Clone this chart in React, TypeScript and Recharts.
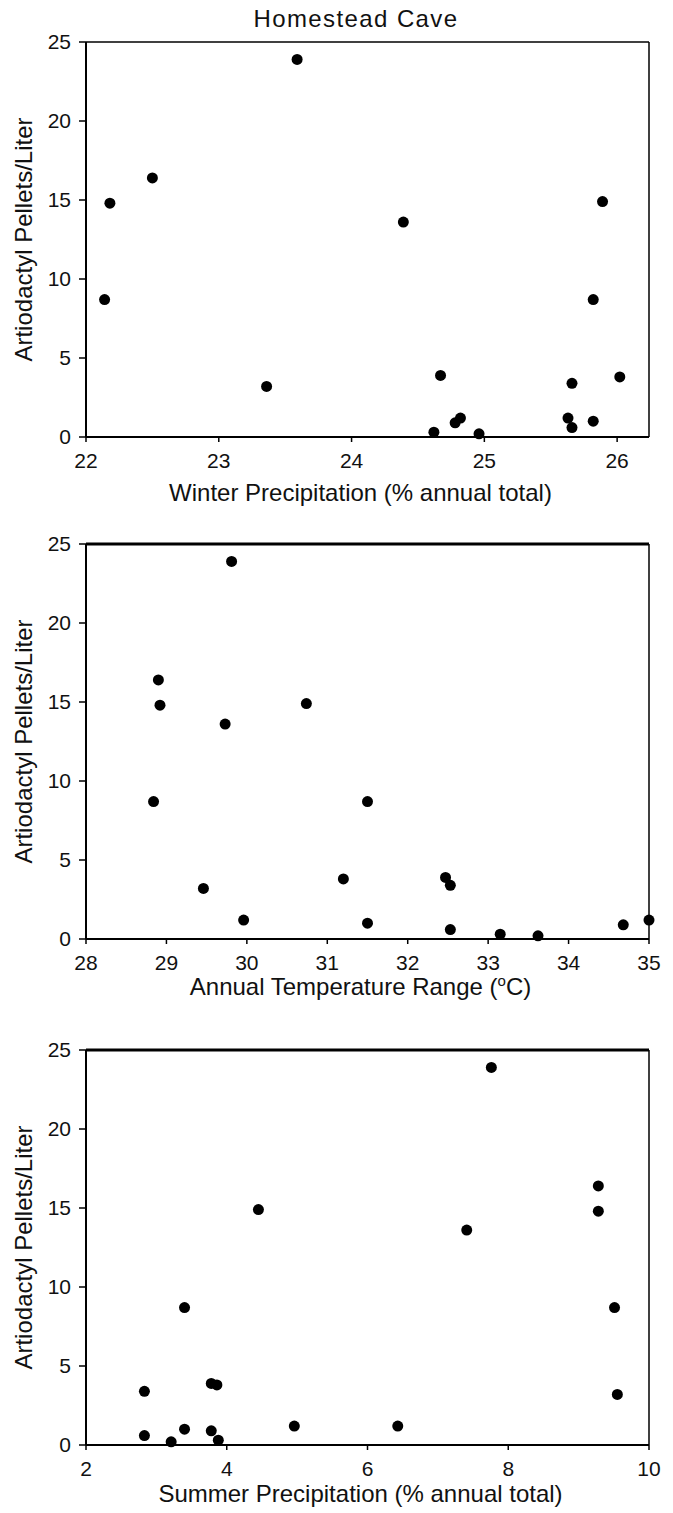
import React from 'react';
import { ScatterChart, Scatter, XAxis, YAxis, ReferenceLine, Label } from 'recharts';

// artiodactyl pellets per liter, one value per sample (same samples in every panel)
const PELLETS = [23.9, 16.4, 14.9, 14.8, 13.6, 8.7, 8.7, 3.9, 3.8, 3.4, 3.2, 1.2, 1.2, 1.0, 0.9, 0.6, 0.3, 0.2];

const WINTER = [23.59, 22.5, 25.89, 22.18, 24.39, 22.14, 25.82, 24.67, 26.02, 25.66, 23.36, 24.82, 25.63, 25.82, 24.78, 25.66, 24.62, 24.96];
const TEMP_RANGE = [29.81, 28.9, 30.74, 28.92, 29.73, 28.84, 31.5, 32.47, 31.2, 32.53, 29.46, 29.96, 35.0, 31.5, 34.68, 32.53, 33.15, 33.62];
const SUMMER = [7.76, 9.28, 4.45, 9.28, 7.41, 9.51, 3.4, 3.78, 3.86, 2.83, 9.55, 4.96, 6.43, 3.4, 3.78, 2.83, 3.88, 3.21];

const Y_TICKS = [0, 5, 10, 15, 20, 25];
const WINTER_TICKS = [22, 23, 24, 25, 26];
const RANGE_TICKS = [28, 29, 30, 31, 32, 33, 34, 35];
const SUMMER_TICKS = [2, 4, 6, 8, 10];

const FONT = '"Liberation Sans", Arial, Helvetica, sans-serif';
const INK = '#111';

const Dot = (props: any) => <circle cx={props.cx} cy={props.cy} r={5.5} fill="#000" />;

interface PanelProps {
  top: number;
  xs: number[];
  domain: [number, number];
  ticks: number[];
  xLabel: React.ReactNode;
  labelGap: number;
  topWidth: number;
}

function Panel({ top, xs, domain, ticks, xLabel, labelGap, topWidth }: PanelProps) {
  const data = PELLETS.map((p, i) => ({ x: xs[i], y: p }));
  return (
    <div style={{ position: 'absolute', left: 0, top }}>
      <ScatterChart width={673} height={507} margin={{ top: 42, right: 24, bottom: 0, left: 0 }}>
        <XAxis
          type="number"
          dataKey="x"
          domain={domain}
          ticks={ticks}
          height={70}
          axisLine={{ stroke: '#000', strokeWidth: 2 }}
          tickLine={{ stroke: '#000', strokeWidth: 1.5 }}
          tickSize={5}
          tickMargin={11}
          tick={{ fontSize: 21, fill: INK, fontFamily: FONT }}
        >
          <Label
            content={(props: any) => {
              const vb = props.viewBox || {};
              return (
                <text
                  x={vb.x + vb.width / 2 - 7}
                  y={vb.y + labelGap}
                  textAnchor="middle"
                  fontSize={24}
                  fill={INK}
                  fontFamily={FONT}
                >
                  {xLabel}
                </text>
              );
            }}
          />
        </XAxis>
        <YAxis
          type="number"
          dataKey="y"
          domain={[0, 25]}
          ticks={Y_TICKS}
          width={86}
          axisLine={{ stroke: '#000', strokeWidth: 2 }}
          tickLine={{ stroke: '#000', strokeWidth: 1.5 }}
          tickSize={7}
          tickMargin={8}
          tick={{ fontSize: 21, fill: INK, fontFamily: FONT }}
        >
          <Label
            content={(props: any) => {
              const vb = props.viewBox || {};
              const cy = vb.y + vb.height / 2;
              return (
                <text
                  x={32}
                  y={cy}
                  transform={`rotate(-90, 32, ${cy})`}
                  textAnchor="middle"
                  fontSize={24}
                  fill={INK}
                  fontFamily={FONT}
                >
                  Artiodactyl Pellets/Liter
                </text>
              );
            }}
          />
        </YAxis>
        <ReferenceLine y={25} stroke="#000" strokeWidth={topWidth} />
        <ReferenceLine x={domain[1]} stroke="#000" strokeWidth={1.5} />
        <Scatter data={data} isAnimationActive={false} shape={Dot} />
      </ScatterChart>
    </div>
  );
}

export default function App() {
  return (
    <div style={{ position: 'absolute', left: 0, top: 0, width: 673, height: 1513, overflow: 'hidden', background: '#fff' }}>
      <svg width={673} height={40} style={{ position: 'absolute', left: 0, top: 0, zIndex: 1 }}>
        <text x={356} y={27} textAnchor="middle" fontSize={24} letterSpacing={1.4} fill={INK} fontFamily={FONT}>
          Homestead Cave
        </text>
      </svg>
      <Panel
        top={0}
        xs={WINTER}
        domain={[22, 26.24]}
        ticks={WINTER_TICKS}
        xLabel="Winter Precipitation (% annual total)"
        labelGap={64}
        topWidth={1.5}
      />
      <Panel
        top={502}
        xs={TEMP_RANGE}
        domain={[28, 35]}
        ticks={RANGE_TICKS}
        xLabel={
          <>
            <tspan>Annual Temperature Range (</tspan>
            <tspan dy={-9} fontSize={15}>o</tspan>
            <tspan dy={9}>C)</tspan>
          </>
        }
        labelGap={56}
        topWidth={3}
      />
      <Panel
        top={1008}
        xs={SUMMER}
        domain={[2, 10]}
        ticks={SUMMER_TICKS}
        xLabel="Summer Precipitation (% annual total)"
        labelGap={57}
        topWidth={3}
      />
    </div>
  );
}
